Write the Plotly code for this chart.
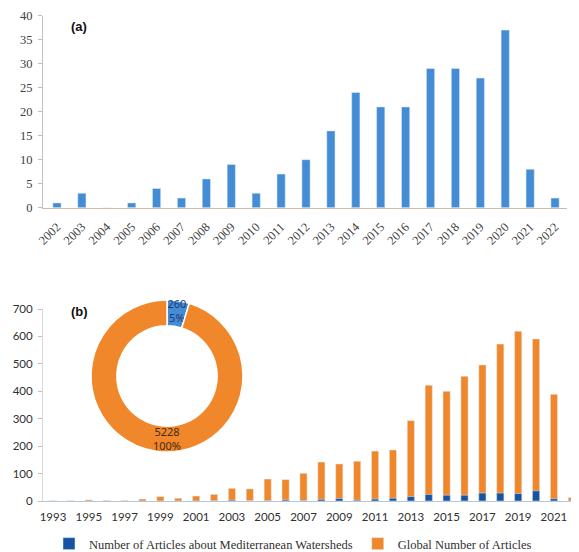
import plotly.graph_objects as go

# ---- data ----
med_years = list(range(2002, 2023))
med_counts = [1, 3, 0, 1, 4, 2, 6, 9, 3, 7, 10, 16, 24, 21, 21, 29, 29, 27, 37, 8, 2]

global_years = list(range(1993, 2023))
global_counts = [1, 1, 4, 2, 2, 7, 16, 10, 18, 24, 46, 44, 80, 78, 101, 142, 135, 145,
                 182, 186, 293, 422, 400, 455, 496, 572, 619, 591, 389, 13]

donut_labels = ["Number of Articles about Mediterranean Watersheds", "Global Number of Articles"]
donut_values = [260, 5228]
donut_text = ["260<br>5%", "5228<br>\u00a0100%\u00a0"]

top_ticks = [str(y) for y in med_years]
bottom_ticks = list(range(1993, 2022, 2))

# ---- styles / layout helpers (page has an 8px body margin) ----
W, H, OFF = 571, 544, 8
def px(x):
    return (x - OFF) / W
def py(y):
    return 1 - (y - OFF) / H

TOP_BLUE = "#448DD4"
DARK_BLUE = "#1653A2"
ORANGE = "#F0872A"
SERIF = "Liberation Serif"
SANS = "Lato"

fig = go.Figure()

# (a) top chart
fig.add_trace(go.Bar(x=med_years, y=med_counts, marker_color=TOP_BLUE, width=0.33,
                     xaxis="x", yaxis="y", showlegend=False))

# (b) bottom chart
fig.add_trace(go.Bar(x=global_years, y=global_counts, marker_color=ORANGE, width=0.4,
                     name="Global Number of Articles", legendrank=2,
                     xaxis="x2", yaxis="y2"))
fig.add_trace(go.Bar(x=med_years, y=med_counts, marker_color=DARK_BLUE, width=0.4,
                     name="Number of Articles about Mediterranean Watersheds", legendrank=1,
                     xaxis="x2", yaxis="y2"))

fig.add_trace(go.Pie(labels=donut_labels, values=donut_values, text=donut_text,
                     textinfo="text", textposition="inside", insidetextorientation="horizontal",
                     hole=0.66, sort=False, direction="clockwise", rotation=0,
                     marker=dict(colors=[TOP_BLUE, ORANGE], line=dict(color="white", width=1.5)),
                     textfont=dict(family="Noto Sans", size=11, color=["#1F3A78", "#4A2A12"]),
                     domain=dict(x=[px(91), px(243)], y=[py(452), py(300)]),
                     showlegend=False))

fig.update_layout(
    width=W, height=H,
    margin=dict(l=0, r=0, t=0, b=0, autoexpand=False),
    paper_bgcolor="white", plot_bgcolor="white",
    barmode="overlay",
    uniformtext=dict(minsize=11, mode="show"),
    xaxis=dict(domain=[px(43), px(567)], range=[2001.44, 2022.48], anchor="y",
               tickmode="array", tickvals=med_years, ticktext=top_ticks, tickangle=-45,
               showline=True, linecolor="#C9BBA8", linewidth=1, showgrid=False, zeroline=False,
               ticks="", ticklabelstandoff=6, automargin=False,
               tickfont=dict(family=SERIF, size=12.5, color="#404040")),
    yaxis=dict(domain=[py(207.7), py(15.7)], range=[0, 40], dtick=5, anchor="x",
               showline=True, linecolor="#BFBFBF", ticks="outside", ticklen=4, tickcolor="#BFBFBF",
               ticklabelstandoff=3, showgrid=False, zeroline=False, automargin=False,
               tickfont=dict(family=SERIF, size=12.5, color="#404040")),
    xaxis2=dict(domain=[px(43), 1.0], range=[1992.44, 2022.4], anchor="y2",
                tickmode="array", tickvals=bottom_ticks,
                showline=True, linecolor="#B4C7DC", linewidth=1, showgrid=False, zeroline=False,
                ticks="", ticklabelstandoff=5, automargin=False,
                tickfont=dict(family=SANS, size=11.5, color="#303030")),
    yaxis2=dict(domain=[py(501), py(309)], range=[0, 700], dtick=100, anchor="x2",
                showline=True, linecolor="#D9D9D9", ticks="outside", ticklen=4, tickcolor="#BFBFBF",
                ticklabelstandoff=3, showgrid=False, zeroline=False, automargin=False,
                tickfont=dict(family=SANS, size=11.5, color="#303030")),
    legend=dict(orientation="h", x=px(49), xanchor="left", y=py(544), yanchor="middle",
                font=dict(family=SERIF, size=12.5, color="#303030"),
                itemwidth=30, bgcolor="rgba(0,0,0,0)"),
    annotations=[
        dict(text="<b>(a)</b>", x=px(69), y=py(17), xref="paper", yref="paper",
             showarrow=False, font=dict(family="Liberation Sans", size=13, color="#111111")),
        dict(text="<b>(b)</b>", x=px(69), y=py(311), xref="paper", yref="paper",
             showarrow=False, font=dict(family="Liberation Sans", size=13, color="#111111")),
    ],
)

fig.write_html("out.html")
